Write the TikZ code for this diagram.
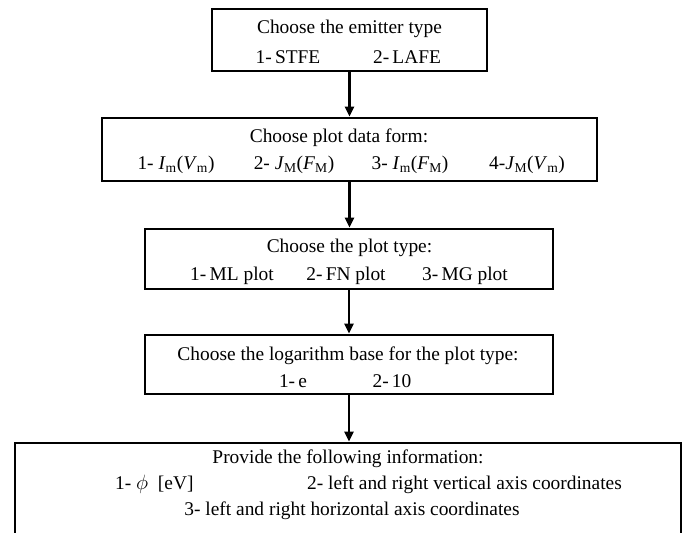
\documentclass[tikz,border=0pt]{standalone}
\usepackage{fontspec}
\setmainfont{Liberation Serif}
\usetikzlibrary{arrows.meta}
\newcommand\sbs[1]{\textsubscript{#1}}
\newcommand\mv[2]{\textit{#1}\sbs{#2}}
\begin{document}
\begin{tikzpicture}[x=1pt,y=-1pt,
  box/.style={draw,line width=2.8pt,inner sep=0pt},
  txt/.style={font=\fontsize{19.4}{22}\selectfont,anchor=base,inner sep=0pt},
  flow/.style={-{Triangle[length=10pt,width=9pt]},line width=2.2pt}]
\useasboundingbox (0,0) rectangle (686,533);
% boxes
\node[box,minimum width=275pt,minimum height=62pt] (b1) at (349.5,40) {};
\node[box,minimum width=495pt,minimum height=63pt] (b2) at (349.5,149.5) {};
\node[box,minimum width=408pt,minimum height=60pt] (b3) at (349,259) {};
\node[box,minimum width=408pt,minimum height=59pt] (b4) at (349,364.5) {};
\node[box,minimum width=666pt,minimum height=140pt] (b5) at (348,513) {};
% box 1
\node[txt] (t1) at (349.5,33) {Choose the emitter type};
\node[txt] (t1a) at (288,63) {1-\,STFE};
\node[txt] (t1b) at (407,63) {2-\,LAFE};
% box 2
\node[txt] (t2) at (339,142) {Choose plot data form:};
\node[txt] (t2a) at (176,169) {1- \mv{I}{m}(\mv{V}{m})};
\node[txt] (t2b) at (294,169) {2- \mv{J}{M}(\mv{F}{M})};
\node[txt] (t2c) at (410,169) {3- \mv{I}{m}(\mv{F}{M})};
\node[txt] (t2d) at (527,169) {4-\mv{J}{M}(\mv{V}{m})};
% box 3
\node[txt] (t3) at (349.5,252) {Choose the plot type:};
\node[txt] (t3a) at (232,280) {1-\,ML plot};
\node[txt] (t3b) at (346,280) {2-\,FN plot};
\node[txt] (t3c) at (465,280) {3-\,MG plot};
% box 4
\node[txt] (t4) at (348,360) {Choose the logarithm base for the plot type:};
\node[txt] (t4a) at (293,387) {1-\,e};
\node[txt] (t4b) at (392,387) {2-\,10};
% box 5
\node[txt] (t5) at (348,463) {Provide the following information:};
\node[txt,anchor=base west] (t5a) at (115,489) {1- $\phi$\ \ [eV]};
\node[txt,anchor=base west] (t5b) at (307,489) {2- left and right vertical axis coordinates};
\node[txt] (t5c) at (352,515) {3- left and right horizontal axis coordinates};
% arrows
\draw[flow] (b1.south) -- (b2.north);
\draw[flow] (b2.south) -- (b2.south |- b3.north);
\draw[flow] (b3.south) -- (b4.north);
\draw[flow] (b4.south) -- (b4.south |- b5.north);
\end{tikzpicture}
\end{document}
